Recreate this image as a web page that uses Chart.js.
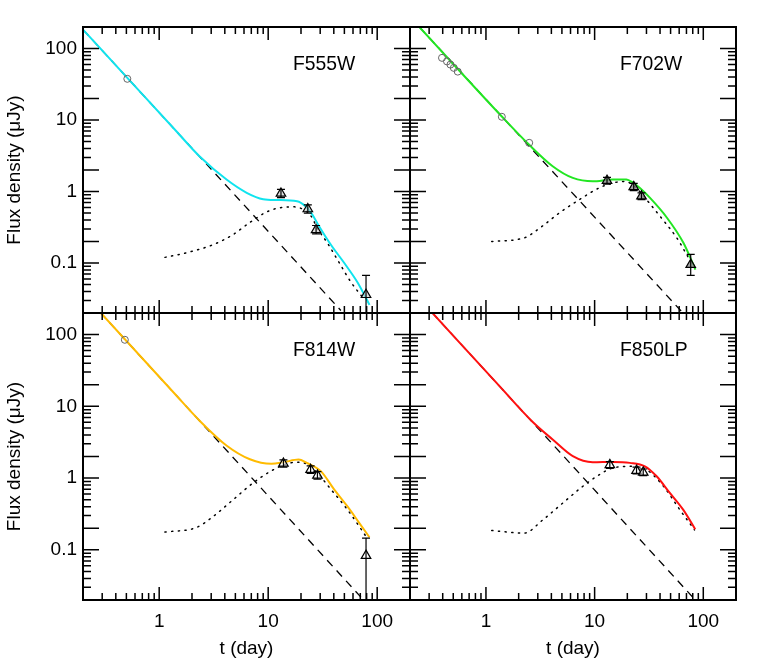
<!DOCTYPE html>
<html>
<head>
<meta charset="utf-8">
<script src="https://cdn.jsdelivr.net/npm/chart.js@4.4.1/dist/chart.umd.min.js"></script>
<style>
html,body{margin:0;padding:0;background:#fff;}
#wrap{position:relative;width:761px;height:666px;overflow:hidden;background:#fff;}
#wrap canvas{position:absolute;left:0;top:0;}
</style>
</head>
<body>
<div id="wrap">
<canvas id="c0" width="761" height="666"></canvas>
<canvas id="c1" width="761" height="666"></canvas>
<canvas id="c2" width="761" height="666"></canvas>
<canvas id="c3" width="761" height="666"></canvas>
</div>
<script>
// ---------- tick labels / ranges ----------
const xTickLabels = [1, 10, 100];
const yTickLabels = [0.1, 1, 10, 100];
const xLimits = [0.2, 200];
const yLimits = [0.02, 200];
const bandNames = ['F555W', 'F702W', 'F814W', 'F850LP'];
const xTitle = 't (day)';
const yTitle = 'Flux density (\u03bcJy)';

// ---------- F555W ----------
const f555ModelT = [0.2, 0.51, 1.43, 2.34, 4.15, 6.35, 9.0, 12.0, 18.4, 22.0, 25.3, 29.2, 37.6, 49.9, 66.3, 85];
const f555ModelF = [184, 38.9, 7.02, 3.12, 1.47, 0.96, 0.78, 0.76, 0.73, 0.62, 0.48, 0.33, 0.18, 0.1, 0.053, 0.026];
const f555SnT = [1.13, 1.77, 3.11, 4.77, 6.8, 10, 13.5, 17.5, 21, 24.8, 28.5, 35, 45, 57, 76];
const f555SnF = [0.12, 0.139, 0.18, 0.25, 0.37, 0.53, 0.6, 0.61, 0.56, 0.45, 0.3, 0.19, 0.1, 0.055, 0.031];
const f555PlT = [0.2, 46.4];
const f555PlF = [184, 0.0217];
const f555EarlyT = [0.51];
const f555EarlyF = [37.7];
const f555HstT = [13.1, 23.1, 27.5, 79];
const f555HstF = [0.94, 0.57, 0.29, 0.036];
const f555HstLo = [0.82, 0.5, 0.255, 0.005];
const f555HstHi = [1.07, 0.65, 0.335, 0.067];

// ---------- F702W ----------
const f702ModelT = [0.24, 1.40, 2.5, 4.11, 6.3, 9.6, 14.7, 19.6, 22.6, 26.1, 32.2, 46.3, 65.8, 84.6];
const f702ModelF = [205, 11.2, 4.5, 2.26, 1.55, 1.39, 1.47, 1.47, 1.32, 1.12, 0.82, 0.43, 0.19, 0.081];
const f702SnT = [1.13, 2.25, 3.32, 4.72, 7.24, 11.1, 14.8, 19, 23, 30, 40, 57, 74];
const f702SnF = [0.2, 0.225, 0.33, 0.5, 0.77, 1.13, 1.32, 1.38, 1.2, 0.77, 0.45, 0.225, 0.115];
const f702PlT = [0.2, 65];
const f702PlF = [277, 0.02];
const f702EarlyT = [0.394, 0.438, 0.471, 0.506, 0.55, 1.40, 2.5];
const f702EarlyF = [74, 66, 59.6, 53.6, 47.5, 11.1, 4.8];
const f702HstT = [13.0, 22.9, 27, 76.6];
const f702HstF = [1.42, 1.16, 0.86, 0.095];
const f702HstLo = [1.27, 1.03, 0.77, 0.067];
const f702HstHi = [1.58, 1.3, 0.96, 0.132];

// ---------- F814W ----------
const f814ModelT = [0.288, 1.33, 2.35, 4.14, 6.8, 10.7, 13.8, 19, 22.6, 30.4, 40.4, 53.6, 68.6, 84.9];
const f814ModelF = [204, 16.1, 6.3, 2.85, 1.83, 1.58, 1.66, 1.81, 1.63, 1.25, 0.69, 0.40, 0.236, 0.15];
const f814SnT = [1.13, 2.2, 3.11, 4.77, 7.3, 11.2, 16, 19.9, 26.3, 37.8, 53.6, 79];
const f814SnF = [0.177, 0.205, 0.29, 0.5, 0.86, 1.31, 1.63, 1.66, 1.31, 0.69, 0.36, 0.154];
const f814PlT = [0.288, 75];
const f814PlF = [204, 0.02];
const f814EarlyT = [0.484];
const f814EarlyF = [84.6];
const f814HstT = [13.8, 24.5, 28.3, 79];
const f814HstF = [1.6, 1.31, 1.09, 0.083];
const f814HstLo = [1.42, 1.16, 0.97, 0.005];
const f814HstHi = [1.8, 1.48, 1.23, 0.146];

// ---------- F850LP ----------
const f850ModelT = [0.318, 1.32, 2.68, 4.11, 6.3, 9.6, 14.8, 21.1, 29, 37.2, 49.2, 65.5, 84.2];
const f850ModelF = [204, 19.4, 6.1, 3.45, 2.02, 1.66, 1.68, 1.63, 1.46, 1.06, 0.62, 0.36, 0.194];
const f850SnT = [1.13, 2.25, 3.32, 5.1, 7.8, 11.1, 14.8, 22.6, 30, 43, 61, 83];
const f850SnF = [0.186, 0.171, 0.26, 0.45, 0.77, 1.12, 1.39, 1.46, 1.31, 0.77, 0.36, 0.19];
const f850PlT = [0.318, 82];
const f850PlF = [204, 0.021];
const f850HstT = [13.8, 24.3, 28];
const f850HstF = [1.53, 1.27, 1.2];
const f850HstLo = [1.37, 1.14, 1.08];
const f850HstHi = [1.7, 1.42, 1.34];

// ---------- drawing ----------
const W = 761, H = 666;
const FONT = '"Liberation Sans", Arial, Helvetica, sans-serif';
Chart.defaults.font.family = FONT;
Chart.defaults.color = '#000';

function zip(t, f) { return t.map((v, i) => ({x: v, y: f[i]})); }

const framePlugin = {
  id: 'frame',
  afterDraw(chart) {
    const {ctx, chartArea: a, scales: {x, y}} = chart;
    ctx.save();
    ctx.strokeStyle = '#000';
    ctx.lineWidth = 1.5;
    ctx.beginPath();
    for (let k = -3; k <= 3; k++) {
      for (let m = 1; m <= 9; m++) {
        const v = m * Math.pow(10, k);
        if (v > x.min * 1.001 && v < x.max * 0.999) {
          const px = x.getPixelForValue(v);
          const L = m === 1 ? 13 : 7;
          ctx.moveTo(px, a.bottom); ctx.lineTo(px, a.bottom - L);
          ctx.moveTo(px, a.top); ctx.lineTo(px, a.top + L);
        }
        if (v > y.min * 1.001 && v < y.max * 0.999) {
          const py = y.getPixelForValue(v);
          const L = (m === 1 || m === 2) ? 16 : 8;
          ctx.moveTo(a.left, py); ctx.lineTo(a.left + L, py);
          ctx.moveTo(a.right, py); ctx.lineTo(a.right - L, py);
        }
      }
    }
    ctx.stroke();
    ctx.lineWidth = 2;
    ctx.strokeRect(a.left, a.top, a.right - a.left, a.bottom - a.top);
    ctx.restore();
  }
};

const errPlugin = {
  id: 'errbars',
  afterDatasetsDraw(chart) {
    const {ctx, chartArea: a, scales: {x, y}} = chart;
    ctx.save();
    ctx.beginPath();
    ctx.rect(a.left, a.top, a.right - a.left, a.bottom - a.top);
    ctx.clip();
    ctx.strokeStyle = '#000';
    ctx.lineWidth = 1.2;
    chart.data.datasets.forEach(ds => {
      if (!ds.errLo) return;
      ds.data.forEach((pt, i) => {
        const px = x.getPixelForValue(pt.x);
        const y1 = y.getPixelForValue(ds.errLo[i]);
        const y2 = y.getPixelForValue(ds.errHi[i]);
        ctx.beginPath();
        ctx.moveTo(px, y1); ctx.lineTo(px, y2);
        ctx.moveTo(px - 4, y1); ctx.lineTo(px + 4, y1);
        ctx.moveTo(px - 4, y2); ctx.lineTo(px + 4, y2);
        ctx.stroke();
      });
    });
    ctx.restore();
  }
};

const labelPlugin = {
  id: 'panelLabel',
  afterDraw(chart, args, opts) {
    const {ctx, chartArea: a} = chart;
    ctx.save();
    ctx.font = '21px ' + FONT;
    ctx.fillStyle = '#000';
    ctx.textBaseline = 'alphabetic';
    ctx.translate(a.left + 210, a.top + 43);
    ctx.scale(0.92, 1);
    ctx.fillText(opts.text, 0, 0);
    ctx.restore();
  }
};

function makePanel(canvasId, area, p) {
  const datasets = [];
  if (p.hstT) {
    datasets.push({
      data: zip(p.hstT, p.hstF), errLo: p.hstLo, errHi: p.hstHi,
      showLine: false, pointStyle: 'triangle', pointRadius: 5.5,
      borderColor: '#000', borderWidth: 1.2, backgroundColor: p.triFill
    });
  }
  if (p.earlyT) {
    datasets.push({
      data: zip(p.earlyT, p.earlyF), showLine: false, pointStyle: 'circle',
      pointRadius: 3.5, borderColor: '#666', borderWidth: 1, backgroundColor: 'rgba(255,255,255,0)'
    });
  }
  datasets.push({
    data: zip(p.modelT, p.modelF), showLine: true, pointRadius: 0,
    borderColor: p.color, borderWidth: 2, cubicInterpolationMode: 'monotone'
  });
  datasets.push({
    data: zip(p.snT, p.snF), showLine: true, pointRadius: 0,
    borderColor: '#000', borderWidth: 1.5, borderDash: [1.2, 5.5], borderCapStyle: 'round',
    cubicInterpolationMode: 'monotone'
  });
  datasets.push({
    data: zip(p.plT, p.plF), showLine: true, pointRadius: 0,
    borderColor: '#000', borderWidth: 1.3, borderDash: [8, 6], tension: 0
  });

  const tickFont = {family: FONT, size: 19};
  new Chart(document.getElementById(canvasId), {
    type: 'scatter',
    data: {datasets},
    options: {
      responsive: false, animation: false, events: [], devicePixelRatio: 1,
      layout: {padding: {left: 0, top: area.top, right: W - area.right, bottom: 0}},
      plugins: {legend: {display: false}, tooltip: {enabled: false}, panelLabel: {text: p.name}},
      scales: {
        x: {
          type: 'logarithmic', position: 'bottom', min: xLimits[0], max: xLimits[1],
          afterBuildTicks: s => { s.ticks = xTickLabels.map(v => ({value: v})); },
          afterFit: s => { s.height = H - area.bottom; },
          grid: {display: false, drawTicks: false}, border: {display: false},
          ticks: {display: p.showX, padding: 10, color: '#000', font: tickFont,
                  autoSkip: false, maxRotation: 0, callback: v => String(v)},
          title: {display: p.showX, text: xTitle, color: '#000', font: tickFont,
                  padding: {top: 0, bottom: 6}}
        },
        y: {
          type: 'logarithmic', position: 'left', min: yLimits[0], max: yLimits[1],
          afterBuildTicks: s => { s.ticks = yTickLabels.map(v => ({value: v})); },
          afterFit: s => { s.width = area.left; },
          grid: {display: false, drawTicks: false}, border: {display: false},
          ticks: {display: p.showY, padding: 6, color: '#000', font: tickFont,
                  autoSkip: false, callback: v => String(v)},
          title: {display: p.showY, text: yTitle, color: '#000', font: tickFont,
                  padding: {top: 3, bottom: 0}}
        }
      }
    },
    plugins: [errPlugin, framePlugin, labelPlugin]
  });
}

makePanel('c0', {left: 83, top: 27, right: 410, bottom: 313}, {
  name: bandNames[0], color: '#10e4ee', showX: false, showY: true,
  modelT: f555ModelT, modelF: f555ModelF, snT: f555SnT, snF: f555SnF, plT: f555PlT, plF: f555PlF,
  earlyT: f555EarlyT, earlyF: f555EarlyF, hstT: f555HstT, hstF: f555HstF, hstLo: f555HstLo, hstHi: f555HstHi,
  triFill: 'rgba(200,200,200,0.6)'
});
makePanel('c1', {left: 410, top: 27, right: 736, bottom: 313}, {
  name: bandNames[1], color: '#22e622', showX: false, showY: false,
  modelT: f702ModelT, modelF: f702ModelF, snT: f702SnT, snF: f702SnF, plT: f702PlT, plF: f702PlF,
  earlyT: f702EarlyT, earlyF: f702EarlyF, hstT: f702HstT, hstF: f702HstF, hstLo: f702HstLo, hstHi: f702HstHi,
  triFill: 'rgba(140,140,140,0.8)'
});
makePanel('c2', {left: 83, top: 313, right: 410, bottom: 600}, {
  name: bandNames[2], color: '#ffbb00', showX: true, showY: true,
  modelT: f814ModelT, modelF: f814ModelF, snT: f814SnT, snF: f814SnF, plT: f814PlT, plF: f814PlF,
  earlyT: f814EarlyT, earlyF: f814EarlyF, hstT: f814HstT, hstF: f814HstF, hstLo: f814HstLo, hstHi: f814HstHi,
  triFill: 'rgba(255,255,255,0.6)'
});
makePanel('c3', {left: 410, top: 313, right: 736, bottom: 600}, {
  name: bandNames[3], color: '#ff1010', showX: true, showY: false,
  modelT: f850ModelT, modelF: f850ModelF, snT: f850SnT, snF: f850SnF, plT: f850PlT, plF: f850PlF,
  hstT: f850HstT, hstF: f850HstF, hstLo: f850HstLo, hstHi: f850HstHi,
  triFill: 'rgba(255,255,255,0.6)'
});
</script>
</body>
</html>
